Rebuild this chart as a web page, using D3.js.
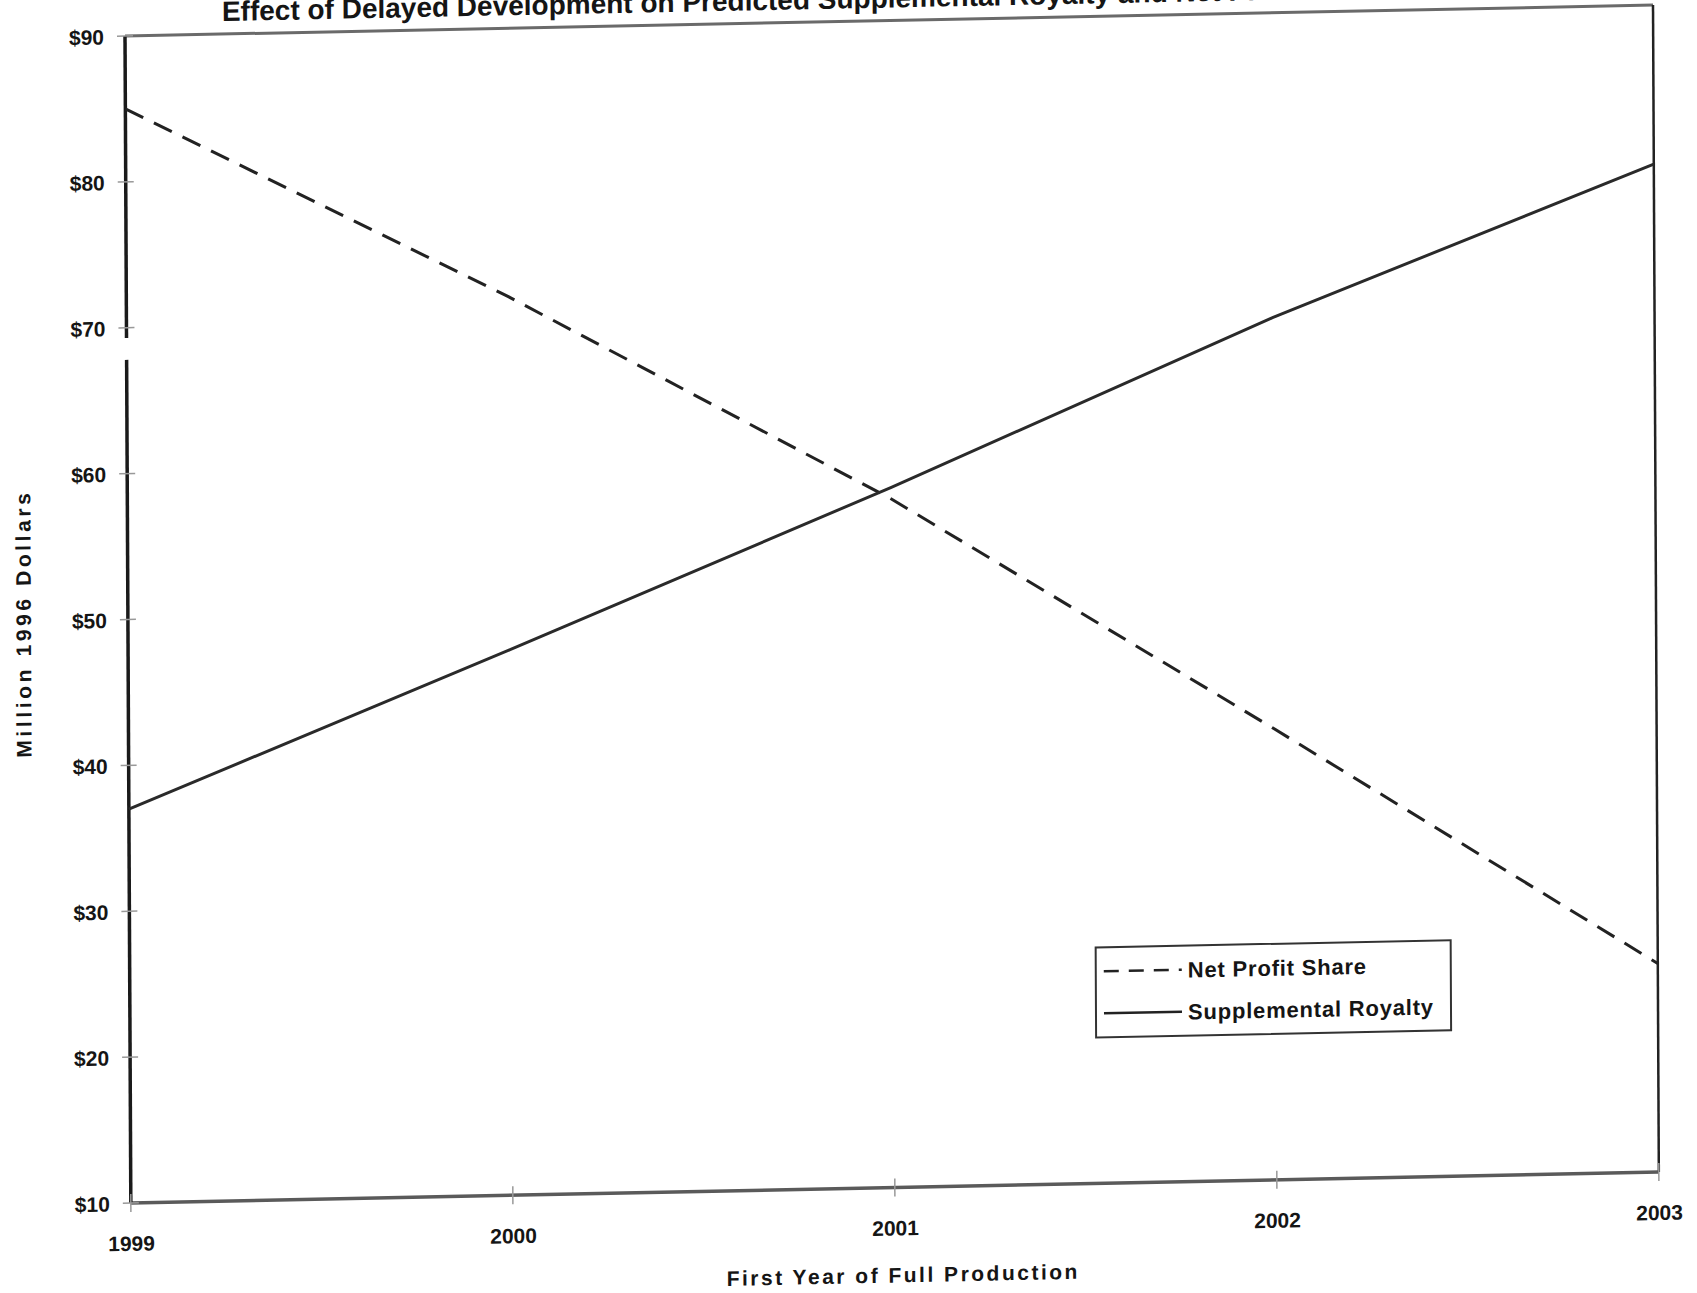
<!DOCTYPE html>
<html>
<head>
<meta charset="utf-8">
<script src="https://cdn.jsdelivr.net/npm/d3@7"></script>
<style>
  html, body { margin: 0; padding: 0; background: #fff; }
  svg { display: block; }
  text { font-family: "Liberation Sans", Arial, sans-serif; font-weight: 700; fill: #151515; }
</style>
</head>
<body>
<svg id="chart" width="1697" height="1293"></svg>
<script>
// ---- data -------------------------------------------------------------
const years = [1999, 2000, 2001, 2002, 2003];
const netProfitShare = [85.0, 71.6, 57.2, 40.9, 24.3];       // million 1996 $
const supplementalRoyalty = [37.0, 47.4, 58.0, 69.1, 79.1];  // million 1996 $
const yTickValues = [10, 20, 30, 40, 50, 60, 70, 80, 90];
const xTickValues = years;
const seriesNames = ["Net Profit Share", "Supplemental Royalty"];
const chartTitle = "Effect of Delayed Development on Predicted Supplemental Royalty and Net Profit Share";
const xAxisTitle = "First Year of Full Production";
const yAxisTitle = "Million 1996 Dollars";

// ---- layout -----------------------------------------------------------
const W = 1528, H = 1167;
const svg = d3.select("#chart");

// the printed page sits slightly askew: a small shear/tilt on the whole figure
const page = svg.append("g")
  .attr("transform", "matrix(1,-0.02025,0.005,1,125,36)");

const x = d3.scaleLinear().domain([1999, 2003]).range([0, W]);
const y = d3.scaleLinear().domain([10, 90]).range([H, 0]);

// ---- title (runs off the top edge) ------------------------------------
page.append("text")
  .attr("x", 97).attr("y", -13)
  .style("font-size", "28px")
  .text(chartTitle);

// ---- frame ------------------------------------------------------------
page.append("line").attr("x1", 0).attr("y1", 0).attr("x2", W).attr("y2", 0)
  .attr("stroke", "#6a6a6a").attr("stroke-width", 3);
page.append("line").attr("x1", W).attr("y1", 0).attr("x2", W).attr("y2", H)
  .attr("stroke", "#222").attr("stroke-width", 2.5);
page.append("line").attr("x1", 0).attr("y1", H).attr("x2", W).attr("y2", H)
  .attr("stroke", "#5a5a5a").attr("stroke-width", 3.5);
// left axis, with the small break just below the $70 mark
page.append("line").attr("x1", 0).attr("y1", 0).attr("x2", 0).attr("y2", y(69.3))
  .attr("stroke", "#1a1a1a").attr("stroke-width", 3.5);
page.append("line").attr("x1", 0).attr("y1", y(67.8)).attr("x2", 0).attr("y2", H)
  .attr("stroke", "#1a1a1a").attr("stroke-width", 3.5);

// ---- axes -------------------------------------------------------------
const yAxis = page.append("g")
  .call(d3.axisLeft(y).tickValues(yTickValues).tickSize(0).tickPadding(21)
    .tickFormat(d => "$" + d));
yAxis.select(".domain").remove();
yAxis.selectAll("text").style("font-size", "21px").attr("dy", "0.36em");

const xAxis = page.append("g")
  .attr("transform", `translate(0,${H})`)
  .call(d3.axisBottom(x).tickValues(xTickValues).tickSize(0).tickPadding(33)
    .tickFormat(d3.format("d")));
xAxis.select(".domain").remove();
xAxis.selectAll("text").style("font-size", "21px");

// small cross-shaped tick marks
page.append("g").selectAll("line").data(yTickValues).join("line")
  .attr("x1", -8).attr("x2", 8)
  .attr("y1", d => y(d)).attr("y2", d => y(d))
  .attr("stroke", "#999").attr("stroke-width", 1.5);
page.append("g").selectAll("line").data(xTickValues).join("line")
  .attr("x1", d => x(d)).attr("x2", d => x(d))
  .attr("y1", H - 9).attr("y2", H + 9)
  .attr("stroke", "#999").attr("stroke-width", 1.5);

// axis titles
page.append("text")
  .attr("x", x(2001) + 8).attr("y", H + 95)
  .attr("text-anchor", "middle")
  .style("font-size", "21px").style("letter-spacing", "2.5px")
  .text(xAxisTitle);

page.append("text")
  .attr("transform", `translate(-97,${y(50) + 2}) rotate(-90)`)
  .attr("text-anchor", "middle")
  .style("font-size", "21px").style("letter-spacing", "3.6px")
  .text(yAxisTitle);

// ---- series -----------------------------------------------------------
const line = d3.line().x(d => x(d[0])).y(d => y(d[1]));

page.append("path")
  .datum(years.map((yr, i) => [yr, netProfitShare[i]]))
  .attr("d", line)
  .attr("fill", "none").attr("stroke", "#222").attr("stroke-width", 3)
  .attr("stroke-dasharray", "20,12");

page.append("path")
  .datum(years.map((yr, i) => [yr, supplementalRoyalty[i]]))
  .attr("d", line)
  .attr("fill", "none").attr("stroke", "#2a2a2a").attr("stroke-width", 3);

// ---- legend -----------------------------------------------------------
const legend = page.append("g").attr("transform", "translate(966,931)");
legend.append("rect")
  .attr("width", 355).attr("height", 90)
  .attr("fill", "#fff").attr("stroke", "#333").attr("stroke-width", 2);

const rows = legend.selectAll("g.row").data(seriesNames).join("g")
  .attr("class", "row")
  .attr("transform", (d, i) => `translate(0,${i === 0 ? 24 : 66})`);
rows.append("line")
  .attr("x1", 8).attr("x2", 86).attr("y1", 0).attr("y2", 0)
  .attr("stroke", "#222").attr("stroke-width", 2.5)
  .attr("stroke-dasharray", (d, i) => i === 0 ? "15,10" : null);
rows.append("text")
  .attr("x", 92).attr("y", 0).attr("dy", "0.36em")
  .style("font-size", "22px").style("letter-spacing", "0.8px")
  .text(d => d);
</script>
</body>
</html>
